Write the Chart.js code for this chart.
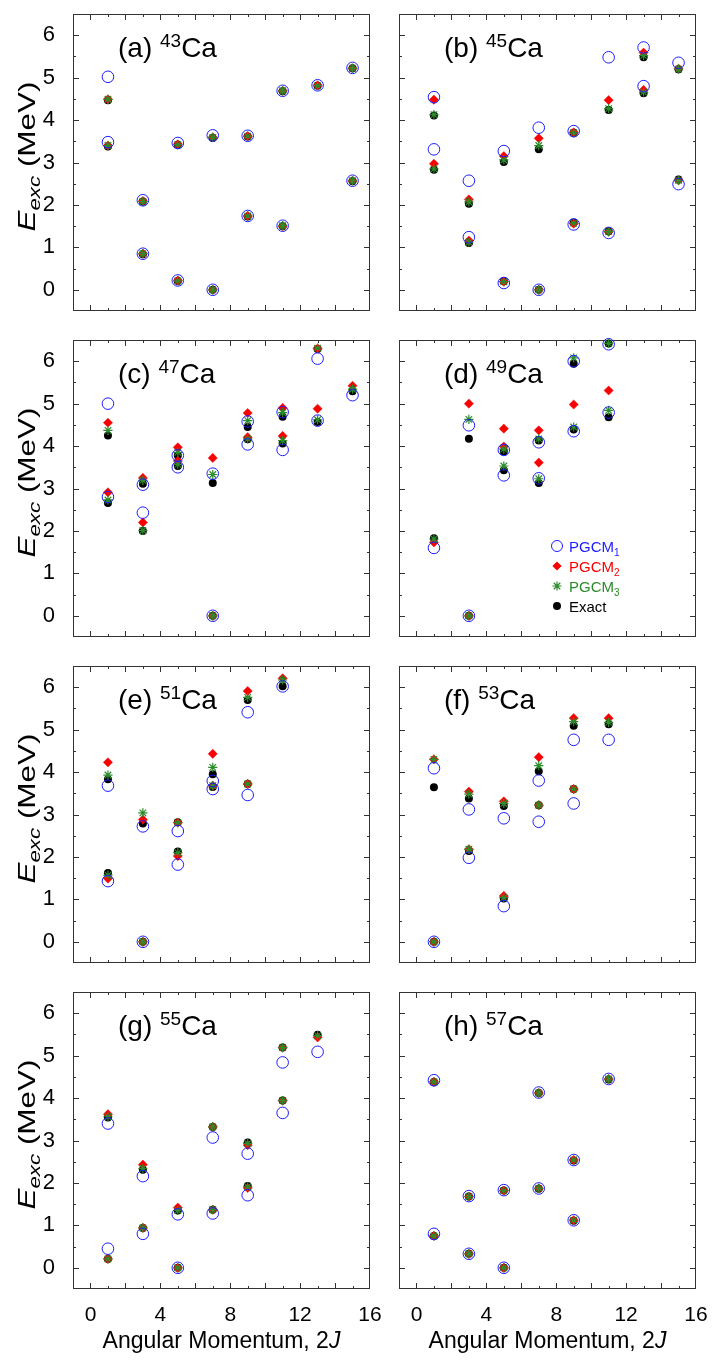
<!DOCTYPE html>
<html>
<head>
<meta charset="utf-8">
<script src="https://cdn.jsdelivr.net/npm/chart.js@4.4.0/dist/chart.umd.min.js"></script>
<style>
  html, body { margin: 0; padding: 0; background: #fff; }
  #page { position: relative; width: 720px; height: 1372px; }
  canvas { position: absolute; }
</style>
</head>
<body>
<div id="page"></div>
<script>
// 2J of each state and excitation energies (MeV), one list per method
const twoJ43   = [1, 1, 3, 3, 5, 5, 7, 7, 9, 9, 11, 11, 13, 15, 15];
const pgcm1_43 = [5.02, 3.48, 2.11, 0.85, 3.46, 0.22, 3.64, 0.00, 3.63, 1.74, 4.69, 1.51, 4.82, 5.23, 2.57];
const pgcm2_43 = [4.49, 3.40, 2.09, 0.85, 3.43, 0.22, 3.59, 0.00, 3.62, 1.74, 4.69, 1.50, 4.82, 5.22, 2.57];
const pgcm3_43 = [4.49, 3.40, 2.08, 0.85, 3.42, 0.21, 3.59, 0.00, 3.62, 1.74, 4.69, 1.51, 4.81, 5.22, 2.57];
const exact_43 = [4.47, 3.38, 2.08, 0.84, 3.42, 0.21, 3.58, 0.00, 3.61, 1.73, 4.68, 1.50, 4.81, 5.22, 2.56];

const twoJ45   = [1, 1, 3, 3, 5, 5, 7, 7, 9, 9, 11, 11, 13, 13, 15, 15];
const pgcm1_45 = [4.54, 3.31, 2.57, 1.24, 3.27, 0.16, 3.82, 0.00, 3.74, 1.54, 5.48, 1.34, 5.71, 4.80, 5.35, 2.49];
const pgcm2_45 = [4.48, 2.97, 2.13, 1.16, 3.15, 0.19, 3.57, 0.00, 3.71, 1.56, 4.47, 1.37, 5.59, 4.71, 5.21, 2.58];
const pgcm3_45 = [4.13, 2.85, 2.07, 1.12, 3.06, 0.19, 3.40, 0.00, 3.70, 1.57, 4.27, 1.37, 5.52, 4.66, 5.20, 2.58];
const exact_45 = [4.11, 2.83, 2.03, 1.10, 3.01, 0.20, 3.31, 0.00, 3.70, 1.58, 4.24, 1.38, 5.48, 4.63, 5.20, 2.60];

const twoJ47   = [1, 1, 3, 3, 5, 5, 7, 7, 9, 9, 11, 11, 13, 13, 15];
const pgcm1_47 = [5.00, 2.80, 3.09, 2.43, 3.78, 3.50, 3.35, 0.00, 4.58, 4.04, 4.80, 3.91, 6.06, 4.60, 5.20];
const pgcm2_47 = [4.55, 2.91, 3.25, 2.20, 3.97, 3.65, 3.72, 0.00, 4.78, 4.21, 4.90, 4.24, 6.30, 4.88, 5.42];
const pgcm3_47 = [4.37, 2.73, 3.19, 2.01, 3.85, 3.57, 3.33, 0.00, 4.60, 4.17, 4.79, 4.13, 6.31, 4.62, 5.34];
const exact_47 = [4.25, 2.66, 3.11, 2.00, 3.78, 3.53, 3.13, 0.00, 4.45, 4.16, 4.69, 4.06, 6.29, 4.57, 5.29];

const twoJ49   = [1, 3, 3, 5, 5, 7, 7, 9, 9, 11, 11];
const pgcm1_49 = [1.60, 4.49, 0.00, 3.91, 3.31, 4.09, 3.24, 6.00, 4.35, 6.40, 4.79];
const pgcm2_49 = [1.73, 5.00, 0.00, 4.41, 3.99, 4.37, 3.61, null, 4.98, null, 5.31];
const pgcm3_49 = [1.81, 4.63, 0.00, 3.93, 3.53, 4.17, 3.23, 6.08, 4.45, 6.42, 4.84];
const exact_49 = [1.83, 4.17, 0.00, 3.87, 3.43, 4.13, 3.13, 5.94, 4.39, 6.42, 4.68];

const twoJ51   = [1, 1, 3, 3, 5, 5, 7, 7, 9, 9, 11];
const pgcm1_51 = [3.68, 1.43, 2.72, 0.00, 2.61, 1.82, 3.79, 3.60, 5.41, 3.46, 6.02];
const pgcm2_51 = [4.23, 1.49, 2.88, 0.00, 2.81, 2.02, 4.43, 3.68, 5.91, 3.72, 6.21];
const pgcm3_51 = [3.93, 1.57, 3.04, 0.00, 2.81, 2.10, 4.11, 3.68, 5.76, 3.72, 6.17];
const exact_51 = [3.83, 1.62, 2.79, 0.00, 2.82, 2.13, 3.95, 3.65, 5.70, 3.72, 6.02];

const twoJ53   = [1, 1, 3, 3, 5, 5, 7, 7, 9, 9, 11];
const pgcm1_53 = [4.09, 0.00, 3.12, 1.98, 2.91, 0.84, 3.80, 2.83, 4.76, 3.26, 4.76];
const pgcm2_53 = [4.30, 0.00, 3.54, 2.18, 3.31, 1.08, 4.35, 3.22, 5.27, 3.60, 5.27];
const pgcm3_53 = [4.30, 0.00, 3.48, 2.18, 3.26, 1.04, 4.15, 3.22, 5.19, 3.60, 5.17];
const exact_53 = [3.64, 0.00, 3.38, 2.14, 3.20, 1.02, 4.02, 3.22, 5.09, 3.60, 5.13];

const twoJ55   = [1, 1, 3, 3, 5, 5, 7, 7, 9, 9, 11, 11, 13];
const pgcm1_55 = [3.40, 0.45, 2.16, 0.80, 1.26, 0.00, 3.07, 1.28, 2.69, 1.71, 4.84, 3.65, 5.09];
const pgcm2_55 = [3.62, 0.21, 2.43, 0.94, 1.42, 0.00, 3.32, 1.37, 2.89, 1.88, 5.19, 3.94, 5.43];
const pgcm3_55 = [3.56, 0.21, 2.34, 0.94, 1.35, 0.00, 3.32, 1.37, 2.93, 1.91, 5.19, 3.94, 5.47];
const exact_55 = [3.54, 0.21, 2.31, 0.94, 1.35, 0.00, 3.32, 1.37, 2.95, 1.93, 5.19, 3.94, 5.49];

const twoJ57   = [1, 1, 3, 3, 5, 5, 7, 7, 9, 9, 11];
const pgcm1_57 = [4.42, 0.80, 1.69, 0.33, 1.83, 0.00, 4.13, 1.87, 2.54, 1.12, 4.45];
const pgcm2_57 = [4.38, 0.75, 1.68, 0.33, 1.82, 0.00, 4.12, 1.87, 2.54, 1.12, 4.45];
const pgcm3_57 = [4.38, 0.75, 1.68, 0.33, 1.82, 0.00, 4.12, 1.87, 2.54, 1.12, 4.45];
const exact_57 = [4.38, 0.75, 1.68, 0.33, 1.82, 0.00, 4.12, 1.86, 2.53, 1.11, 4.44];

const xTicks = [0, 4, 8, 12, 16];
const yTicks = [0, 1, 2, 3, 4, 5, 6];
const seriesNames = ["PGCM", "PGCM", "PGCM", "Exact"];
const seriesSubs = ["1", "2", "3", ""];

const panels = [
  { tag: "(a) ", mass: "43", twoJ: twoJ43, s: [pgcm1_43, pgcm2_43, pgcm3_43, exact_43] },
  { tag: "(b) ", mass: "45", twoJ: twoJ45, s: [pgcm1_45, pgcm2_45, pgcm3_45, exact_45] },
  { tag: "(c) ", mass: "47", twoJ: twoJ47, s: [pgcm1_47, pgcm2_47, pgcm3_47, exact_47] },
  { tag: "(d) ", mass: "49", twoJ: twoJ49, s: [pgcm1_49, pgcm2_49, pgcm3_49, exact_49], legend: true },
  { tag: "(e) ", mass: "51", twoJ: twoJ51, s: [pgcm1_51, pgcm2_51, pgcm3_51, exact_51] },
  { tag: "(f) ", mass: "53", twoJ: twoJ53, s: [pgcm1_53, pgcm2_53, pgcm3_53, exact_53] },
  { tag: "(g) ", mass: "55", twoJ: twoJ55, s: [pgcm1_55, pgcm2_55, pgcm3_55, exact_55] },
  { tag: "(h) ", mass: "57", twoJ: twoJ57, s: [pgcm1_57, pgcm2_57, pgcm3_57, exact_57] }
];

const FONT = "'Liberation Sans', Arial, Helvetica, sans-serif";
const BLUE = "#1c1cff", RED = "#f80000", GREEN = "#2a8c2a";
const colors = [BLUE, RED, GREEN, "#000"];

// marker look for each method, drawn by the library
const styles = [
  { pointStyle: "circle", pointRadius: 5.8, pointBackgroundColor: "rgba(0,0,0,0)", pointBorderColor: BLUE, pointBorderWidth: 1, order: 0 },
  { pointStyle: "rectRot", pointRadius: 4.6, pointBackgroundColor: RED, pointBorderColor: RED, pointBorderWidth: 0.5, order: 2 },
  { pointStyle: "star", pointRadius: 4.6, pointBackgroundColor: GREEN, pointBorderColor: GREEN, pointBorderWidth: 1.2, order: 1 },
  { pointStyle: "circle", pointRadius: 4, pointBackgroundColor: "#000", pointBorderColor: "#000", pointBorderWidth: 0, order: 3 }
];

Chart.defaults.font.family = FONT;
Chart.defaults.color = "#000";

function drawParts(ctx, parts, x, y) {
  for (const p of parts) {
    ctx.font = p.font;
    ctx.fillStyle = p.color || "#000";
    ctx.fillText(p.text, x, y + (p.dy || 0));
    x += ctx.measureText(p.text).width;
  }
}
function partsWidth(ctx, parts) {
  let w = 0;
  for (const p of parts) { ctx.font = p.font; w += ctx.measureText(p.text).width; }
  return w;
}

function marker(ctx, k, x, y) {
  ctx.beginPath();
  if (k === 0) {
    ctx.arc(x, y, 5.5, 0, Math.PI * 2);
    ctx.strokeStyle = BLUE; ctx.lineWidth = 1; ctx.stroke();
  } else if (k === 1) {
    const r = 4.6;
    ctx.moveTo(x - r, y); ctx.lineTo(x, y - r); ctx.lineTo(x + r, y); ctx.lineTo(x, y + r); ctx.closePath();
    ctx.fillStyle = RED; ctx.fill();
  } else if (k === 2) {
    const r = 4.6, d = r * Math.SQRT1_2;
    ctx.moveTo(x - r, y); ctx.lineTo(x + r, y);
    ctx.moveTo(x, y - r); ctx.lineTo(x, y + r);
    ctx.moveTo(x - d, y - d); ctx.lineTo(x + d, y + d);
    ctx.moveTo(x - d, y + d); ctx.lineTo(x + d, y - d);
    ctx.strokeStyle = GREEN; ctx.lineWidth = 1.2; ctx.stroke();
  } else {
    ctx.arc(x, y, 4, 0, Math.PI * 2);
    ctx.fillStyle = "#000"; ctx.fill();
  }
}

// frame with inward ticks on four sides, panel tag, axis titles, legend
const deco = {
  id: "deco",
  beforeDatasetsDraw(chart, args, opts) {
    const { ctx, chartArea: a, scales: { x, y } } = chart;
    ctx.save();
    ctx.strokeStyle = "#333";
    ctx.lineWidth = 1;
    ctx.strokeRect(a.left + 0.5, a.top + 0.5, a.width - 1, a.height - 1);
    ctx.beginPath();
    for (let v = 0; v <= 15; v++) {
      const px = Math.round(x.getPixelForValue(v)) + 0.5;
      const len = v % 2 === 0 ? 6 : 3;
      ctx.moveTo(px, a.bottom); ctx.lineTo(px, a.bottom - len);
      ctx.moveTo(px, a.top); ctx.lineTo(px, a.top + len);
    }
    for (let v = 0; v <= 6; v += 0.5) {
      const py = Math.round(y.getPixelForValue(v)) + 0.5;
      const len = Number.isInteger(v) ? 6 : 3;
      ctx.moveTo(a.left, py); ctx.lineTo(a.left + len, py);
      ctx.moveTo(a.right, py); ctx.lineTo(a.right - len, py);
    }
    ctx.stroke();
    ctx.restore();
  },
  afterDraw(chart, args, opts) {
    const { ctx, chartArea: a } = chart;
    ctx.save();
    ctx.textBaseline = "alphabetic";
    drawParts(ctx, [
      { text: opts.tag, font: "28px " + FONT },
      { text: opts.mass, font: "19px " + FONT, dy: -10 },
      { text: "Ca", font: "28px " + FONT }
    ], a.left + 45, a.top + 43);

    if (opts.yTitle) {
      const parts = [
        { text: "E", font: "italic 24px " + FONT },
        { text: "exc", font: "italic 17px " + FONT, dy: 5 },
        { text: " (MeV)", font: "24px " + FONT }
      ];
      const w = partsWidth(ctx, parts);
      const len = 150;
      ctx.save();
      ctx.translate(0, (a.top + a.bottom) / 2 - 6);
      ctx.rotate(-Math.PI / 2);
      ctx.scale(len / w, 1);
      drawParts(ctx, parts, -w / 2, 35);
      ctx.restore();
    }
    if (opts.xTitle) {
      const parts = [
        { text: "Angular Momentum, 2", font: "23px " + FONT },
        { text: "J", font: "italic 23px " + FONT }
      ];
      const w = partsWidth(ctx, parts);
      drawParts(ctx, parts, (a.left + a.right) / 2 - w / 2, a.bottom + 59);
    }
    if (opts.legend) {
      for (let k = 0; k < 4; k++) {
        const ry = a.top + 206 + 20 * k;
        marker(ctx, k, a.left + 158, ry);
        drawParts(ctx, [
          { text: seriesNames[k], font: "15px " + FONT, color: colors[k] },
          { text: seriesSubs[k], font: "10px " + FONT, color: colors[k], dy: 4 }
        ], a.left + 170, ry + 5.5);
      }
    }
    ctx.restore();
  }
};

function noPad(s) {
  s.paddingTop = 0; s.paddingBottom = 0; s.paddingLeft = 0; s.paddingRight = 0;
}

const page = document.getElementById("page");
panels.forEach((p, i) => {
  const col = i % 2, row = Math.floor(i / 2);
  const last = row === 3;
  const cv = document.createElement("canvas");
  cv.width = col === 0 ? 385 : 335;
  cv.height = last ? 394 : 326;
  cv.style.left = (col === 0 ? 0 : 385) + "px";
  cv.style.top = row * 326 + "px";
  page.appendChild(cv);

  const datasets = p.s.map((vals, k) => Object.assign({
    label: seriesNames[k] + seriesSubs[k],
    data: p.twoJ.map((j, n) => ({ x: j, y: vals[n] })).filter(d => d.y !== null),
    clip: false
  }, styles[k]));

  new Chart(cv, {
    type: "scatter",
    data: { datasets },
    options: {
      responsive: false,
      animation: false,
      devicePixelRatio: 1,
      events: [],
      layout: { autoPadding: false, padding: { top: 14, right: col === 0 ? 15 : 24, left: 0, bottom: 0 } },
      plugins: {
        legend: { display: false },
        tooltip: { enabled: false },
        deco: { tag: p.tag, mass: p.mass, yTitle: col === 0, xTitle: last, legend: !!p.legend }
      },
      scales: {
        x: {
          type: "linear", min: -1, max: 16,
          grid: { display: false }, border: { display: false },
          afterBuildTicks: s => { s.ticks = xTicks.map(v => ({ value: v })); },
          ticks: { display: last, font: { size: 21 }, color: "#000", padding: 6, maxRotation: 0, autoSkip: false },
          afterFit: s => { s.height = last ? 83 : 15; noPad(s); }
        },
        y: {
          type: "linear", min: -0.5, max: 6.5,
          grid: { display: false }, border: { display: false },
          afterBuildTicks: s => { s.ticks = yTicks.map(v => ({ value: v })); },
          ticks: { display: col === 0, font: { size: 22 }, color: "#000", padding: 10 },
          afterFit: s => { s.width = col === 0 ? 73 : 14; noPad(s); }
        }
      }
    },
    plugins: [deco]
  });
});
</script>
</body>
</html>
